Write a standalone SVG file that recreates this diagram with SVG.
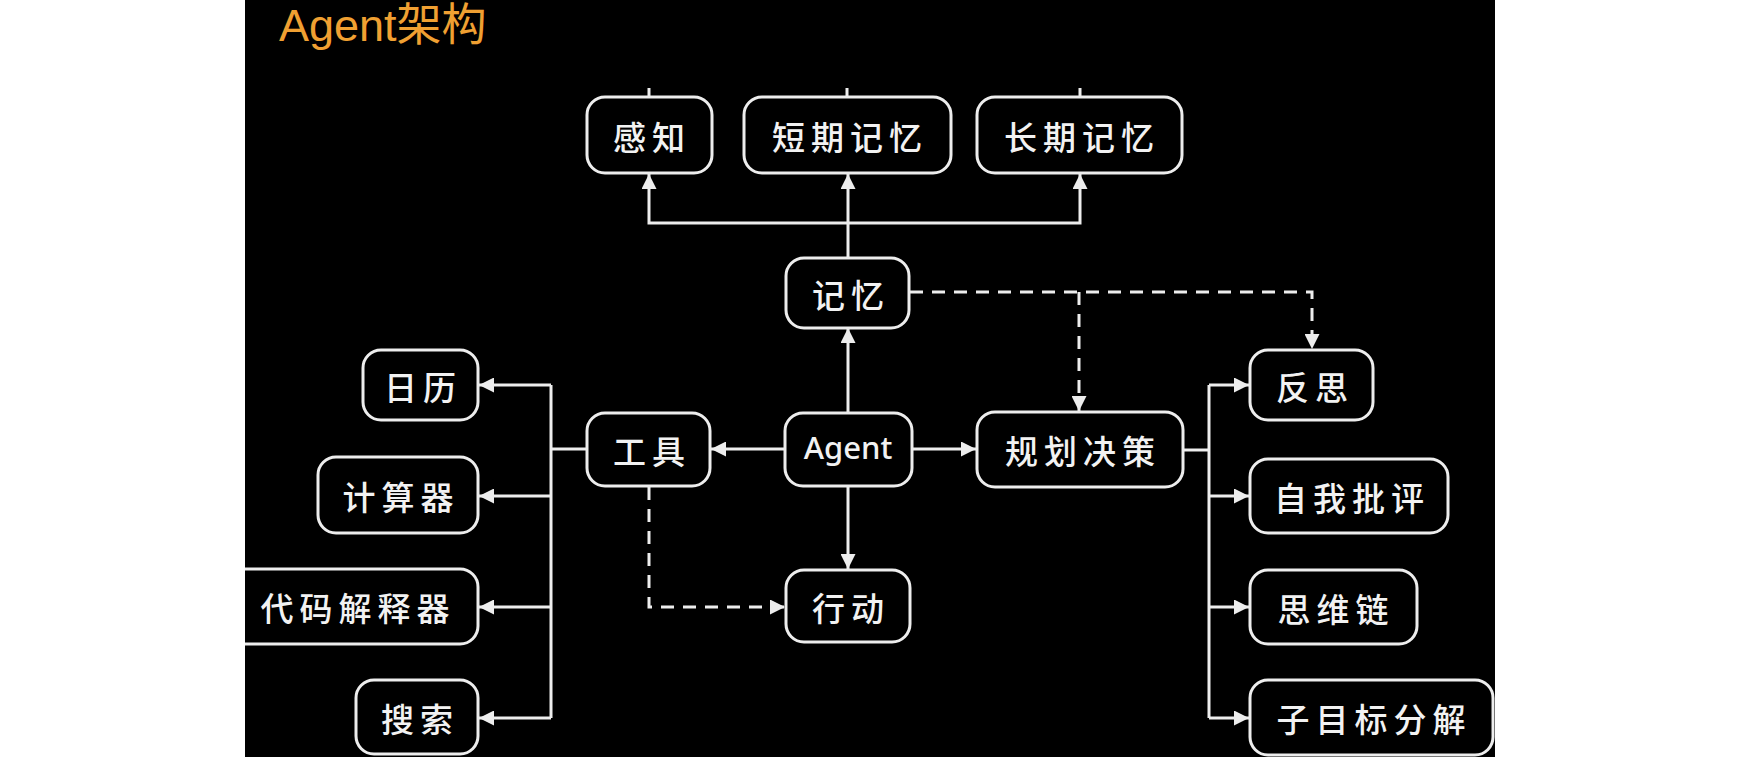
<svg xmlns="http://www.w3.org/2000/svg" width="1743" height="759" viewBox="0 0 1743 759">
<style>
.box{fill:#000;stroke:#ededed;stroke-width:3}
.lbl{fill:#f2f2f2;font-family:"Noto Sans CJK SC","Noto Sans",sans-serif;font-size:33px;font-weight:500;letter-spacing:6px;text-anchor:middle;dominant-baseline:central}
.lat{fill:#f2f2f2;font-family:"Noto Sans","DejaVu Sans",sans-serif;font-size:31px;font-weight:500;text-anchor:middle;dominant-baseline:central}
.ln{fill:none;stroke:#ededed;stroke-width:3}
.dash{fill:none;stroke:#ededed;stroke-width:3;stroke-dasharray:13 9}
</style>
<defs>
<marker id="ah" viewBox="0 0 10 10" refX="10" refY="5" markerWidth="5.5" markerHeight="5" markerUnits="strokeWidth" orient="auto">
<path d="M0,0 L10,5 L0,10 Z" fill="#ededed"/>
</marker>
<clipPath id="stage"><rect x="245" y="0" width="1250" height="757"/></clipPath>
</defs>
<rect x="0" y="0" width="1743" height="759" fill="#fff"/>
<rect x="245" y="0" width="1250" height="757" fill="#000"/>
<text x="279" y="41" fill="#f0a032" font-family="'Liberation Sans','Noto Sans CJK SC',sans-serif" font-size="45">Agent架构</text>
<g clip-path="url(#stage)">
<g id="connectors">
<path class="ln" d="M649,88 V97 M847,88 V97 M1080,88 V97"/>
<path class="ln" d="M848,258 V174" marker-end="url(#ah)"/>
<path class="ln" d="M848,223 H649 V174" marker-end="url(#ah)"/>
<path class="ln" d="M848,223 H1080 V174" marker-end="url(#ah)"/>
<path class="ln" d="M848,413 V328" marker-end="url(#ah)"/>
<path class="ln" d="M848,486 V569" marker-end="url(#ah)"/>
<path class="ln" d="M785,449 H711" marker-end="url(#ah)"/>
<path class="ln" d="M912,449 H976" marker-end="url(#ah)"/>
<path class="dash" d="M910,292 H1312 V349" marker-end="url(#ah)"/>
<path class="dash" d="M1079,292 V411" marker-end="url(#ah)"/>
<path class="dash" d="M649,487 V607 H785" marker-end="url(#ah)"/>
<path class="ln" d="M587,449 H551"/>
<path class="ln" d="M551,385 V718"/>
<path class="ln" d="M551,385 H479" marker-end="url(#ah)"/>
<path class="ln" d="M551,496 H479" marker-end="url(#ah)"/>
<path class="ln" d="M551,607 H479" marker-end="url(#ah)"/>
<path class="ln" d="M551,718 H479" marker-end="url(#ah)"/>
<path class="ln" d="M1183,450 H1209"/>
<path class="ln" d="M1209,385 V718"/>
<path class="ln" d="M1209,385 H1249" marker-end="url(#ah)"/>
<path class="ln" d="M1209,496 H1249" marker-end="url(#ah)"/>
<path class="ln" d="M1209,607 H1249" marker-end="url(#ah)"/>
<path class="ln" d="M1209,718 H1249" marker-end="url(#ah)"/>
</g>
<g id="n-ganzhi"><rect class="box" x="587" y="97" width="125" height="76" rx="18"/><text class="lbl" x="652" y="136">感知</text></g>
<g id="n-short"><rect class="box" x="744" y="97" width="207" height="76" rx="18"/><text class="lbl" x="850" y="136">短期记忆</text></g>
<g id="n-long"><rect class="box" x="977" y="97" width="205" height="76" rx="18"/><text class="lbl" x="1082" y="136">长期记忆</text></g>
<g id="n-memory"><rect class="box" x="786" y="258" width="123" height="70" rx="18"/><text class="lbl" x="851" y="294">记忆</text></g>
<g id="n-calendar"><rect class="box" x="363" y="350" width="115" height="70" rx="18"/><text class="lbl" x="423" y="386">日历</text></g>
<g id="n-calc"><rect class="box" x="318" y="457" width="160" height="76" rx="18"/><text class="lbl" x="401" y="496">计算器</text></g>
<g id="n-code"><rect class="box" x="215" y="569" width="263" height="75" rx="18"/><text class="lbl" x="358" y="607">代码解释器</text></g>
<g id="n-search"><rect class="box" x="356" y="680" width="122" height="74" rx="18"/><text class="lbl" x="420" y="718">搜索</text></g>
<g id="n-tools"><rect class="box" x="587" y="413" width="123" height="73" rx="18"/><text class="lbl" x="652" y="450">工具</text></g>
<g id="n-agent"><rect class="box" x="785" y="413" width="127" height="73" rx="18"/><text class="lat" x="848" y="447">Agent</text></g>
<g id="n-plan"><rect class="box" x="977" y="412" width="206" height="75" rx="18"/><text class="lbl" x="1083" y="450">规划决策</text></g>
<g id="n-action"><rect class="box" x="786" y="570" width="124" height="72" rx="18"/><text class="lbl" x="851" y="607">行动</text></g>
<g id="n-reflect"><rect class="box" x="1250" y="350" width="123" height="70" rx="18"/><text class="lbl" x="1315" y="386">反思</text></g>
<g id="n-critic"><rect class="box" x="1250" y="459" width="198" height="74" rx="18"/><text class="lbl" x="1352" y="497">自我批评</text></g>
<g id="n-cot"><rect class="box" x="1250" y="570" width="167" height="74" rx="18"/><text class="lbl" x="1336" y="608">思维链</text></g>
<g id="n-subgoal"><rect class="box" x="1250" y="680" width="243" height="75" rx="18"/><text class="lbl" x="1374" y="718">子目标分解</text></g>
</g>
</svg>
